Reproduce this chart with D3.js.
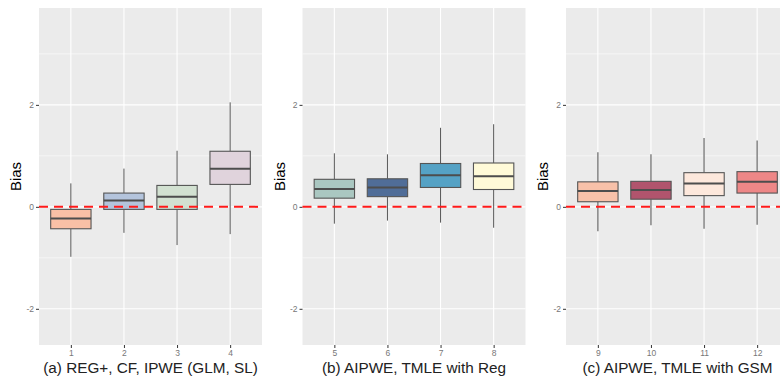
<!DOCTYPE html>
<html>
<head>
<meta charset="utf-8">
<script src="https://cdn.jsdelivr.net/npm/d3@7"></script>
<style>
  body { margin: 0; background: #fff; }
  svg { display: block; font-family: "Liberation Sans", Arial, sans-serif; }
</style>
</head>
<body>
<div id="main"></div>
<script>
const panelTitles = [
  "(a) REG+, CF, IPWE (GLM, SL)",
  "(b) AIPWE, TMLE with Reg",
  "(c) AIPWE, TMLE with GSM"
];
const categories = [
  ["1", "2", "3", "4"],
  ["5", "6", "7", "8"],
  ["9", "10", "11", "12"]
];
const lowerWhisker = [-0.98, -0.51, -0.75, -0.535, -0.33, -0.27, -0.31, -0.41, -0.48, -0.36, -0.43, -0.35];
const q1 = [-0.43, -0.05, -0.05, 0.44, 0.17, 0.2, 0.38, 0.34, 0.1, 0.15, 0.22, 0.27];
const median = [-0.23, 0.125, 0.2, 0.745, 0.35, 0.38, 0.62, 0.6, 0.31, 0.33, 0.46, 0.49];
const q3 = [-0.05, 0.27, 0.42, 1.09, 0.54, 0.55, 0.85, 0.86, 0.49, 0.5, 0.67, 0.69];
const upperWhisker = [0.46, 0.75, 1.1, 2.05, 1.05, 1.03, 1.55, 1.62, 1.07, 1.03, 1.35, 1.3];
const fills = [
  "#f9c0a6", "#b4c4dc", "#d2e1d1", "#e0d3dc",
  "#aac7c1", "#506d98", "#55a2c5", "#fffad8",
  "#f8c1a9", "#b1546d", "#fde8dc", "#ee8787"
];
const yTicks = [-2, 0, 2];
const yMinor = [-1, 1, 3];

const width = 780, height = 378;
const svg = d3.select("#main").append("svg")
  .attr("width", width)
  .attr("height", height);

const panelLeft = 39, panelStep = 263.5, panelWidth = 223;
const panelTop = 8, panelBottom = 345;

const y = d3.scaleLinear().domain([-2.71, 3.9]).range([panelBottom, panelTop]);

categories.forEach((cats, p) => {
  const left = panelLeft + p * panelStep;
  const x = d3.scalePoint().domain(cats).range([left, left + panelWidth]).padding(0.6);
  const boxW = x.step() * 0.76;

  const g = svg.append("g");

  g.append("rect")
    .attr("x", left).attr("y", panelTop)
    .attr("width", panelWidth).attr("height", panelBottom - panelTop)
    .attr("fill", "#ebebeb");

  g.selectAll(".minor").data(yMinor).enter().append("line")
    .attr("x1", left).attr("x2", left + panelWidth)
    .attr("y1", d => y(d)).attr("y2", d => y(d))
    .attr("stroke", "#fff").attr("stroke-width", 0.55);

  g.selectAll(".major").data(yTicks).enter().append("line")
    .attr("x1", left).attr("x2", left + panelWidth)
    .attr("y1", d => y(d)).attr("y2", d => y(d))
    .attr("stroke", "#fff").attr("stroke-width", 1.1);

  g.selectAll(".vmajor").data(cats).enter().append("line")
    .attr("x1", d => x(d)).attr("x2", d => x(d))
    .attr("y1", panelTop).attr("y2", panelBottom)
    .attr("stroke", "#fff").attr("stroke-width", 1.1);

  // axes
  const yAxis = g.append("g")
    .attr("transform", `translate(${left},0)`)
    .call(d3.axisLeft(y).tickValues(yTicks).tickFormat(d => String(d)).tickSize(3).tickPadding(2));
  yAxis.select(".domain").remove();
  yAxis.selectAll("line").attr("stroke", "#333");
  yAxis.selectAll("text").attr("fill", "#777").attr("font-size", 8.5)
    .attr("font-family", "Liberation Sans, Arial, sans-serif");

  const xAxis = g.append("g")
    .attr("transform", `translate(0,${panelBottom})`)
    .call(d3.axisBottom(x).tickSize(3).tickPadding(2));
  xAxis.select(".domain").remove();
  xAxis.selectAll("line").attr("stroke", "#333");
  xAxis.selectAll("text").attr("fill", "#777").attr("font-size", 8.5)
    .attr("font-family", "Liberation Sans, Arial, sans-serif");

  // boxes
  const idx = cats.map((c, i) => p * 4 + i);
  const cx = i => x(categories[p][i - p * 4]);
  const whiskerColor = p === 2 ? "#8a8a8a" : "#555";
  const whiskerWidth = p === 2 ? 1.6 : 1;

  const boxes = g.selectAll(".box").data(idx).enter().append("g");
  boxes.append("line")
    .attr("x1", cx).attr("x2", cx)
    .attr("y1", i => y(upperWhisker[i])).attr("y2", i => y(q3[i]))
    .attr("stroke", whiskerColor).attr("stroke-width", whiskerWidth);
  boxes.append("line")
    .attr("x1", cx).attr("x2", cx)
    .attr("y1", i => y(q1[i])).attr("y2", i => y(lowerWhisker[i]))
    .attr("stroke", whiskerColor).attr("stroke-width", whiskerWidth);
  boxes.append("rect")
    .attr("x", i => cx(i) - boxW / 2)
    .attr("width", boxW)
    .attr("y", i => y(q3[i]))
    .attr("height", i => y(q1[i]) - y(q3[i]))
    .attr("fill", i => fills[i])
    .attr("stroke", "#555").attr("stroke-width", 1.1);
  boxes.append("line")
    .attr("x1", i => cx(i) - boxW / 2)
    .attr("x2", i => cx(i) + boxW / 2)
    .attr("y1", i => y(median[i])).attr("y2", i => y(median[i]))
    .attr("stroke", "#4d4d4d").attr("stroke-width", 2);

  // reference line at zero
  g.append("line")
    .attr("x1", left).attr("x2", left + panelWidth)
    .attr("y1", y(0)).attr("y2", y(0))
    .attr("stroke", "#ff1a1a").attr("stroke-width", 2)
    .attr("stroke-dasharray", "9,6");

  // labels
  g.append("text")
    .attr("transform", `translate(${left - 18},${(panelTop + panelBottom) / 2}) rotate(-90)`)
    .attr("text-anchor", "middle")
    .attr("font-size", 15)
    .attr("fill", "#000")
    .text("Bias");

  g.append("text")
    .attr("x", left + panelWidth / 2)
    .attr("y", 373)
    .attr("text-anchor", "middle")
    .attr("font-size", 15.3)
    .attr("fill", "#222")
    .text(panelTitles[p]);
});
</script>
</body>
</html>
